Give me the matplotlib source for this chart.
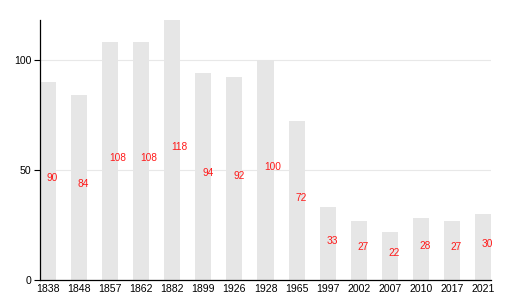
import numpy as np
import matplotlib
matplotlib.use("Agg")
import matplotlib.pyplot as plt

# Data
years = ["1838", "1848", "1857", "1862", "1882", "1899", "1926", "1928",
         "1965", "1997", "2002", "2007", "2010", "2017", "2021"]
values = [90, 84, 108, 108, 118, 94, 92, 100, 72, 33, 27, 22, 28, 27, 30]

plt.rcParams["font.family"] = ["Liberation Sans", "DejaVu Sans"]

fig = plt.figure(figsize=(5.3, 3.0), dpi=100)
ax = fig.add_axes([40 / 530, 20 / 300, 451 / 530, 260 / 300])

x = np.arange(len(years))
width = 0.516
ax.bar(x, values, width=width, color="#e6e6e6", zorder=2)

# value labels, baseline at half bar height
for xi, v in zip(x, values):
    ax.text(xi - 0.04, v / 2, str(v), color="#ff1a1a", fontsize=7.3,
            ha="left", va="baseline", zorder=3)

ax.set_xlim(-width / 2, len(years) - 1 + width / 2)
ax.set_ylim(0, 118)
ax.set_yticks([0, 50, 100])
ax.set_xticks(x)
ax.set_xticklabels(years)
ax.tick_params(axis="x", length=0, pad=3, labelsize=7.6)
ax.tick_params(axis="y", length=4, width=0.8, pad=2, labelsize=7.6)

ax.grid(axis="y", color="#e8e8e8", linewidth=0.8, zorder=0)
ax.spines["top"].set_visible(False)
ax.spines["right"].set_visible(False)
ax.spines["left"].set_linewidth(0.9)
ax.spines["bottom"].set_linewidth(0.9)

fig.savefig("out.png", dpi=100)
